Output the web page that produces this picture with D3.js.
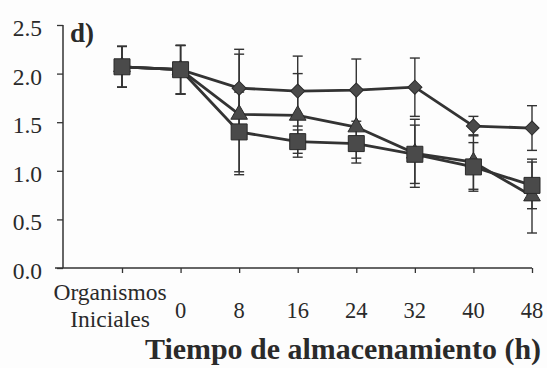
<!DOCTYPE html>
<html>
<head>
<meta charset="utf-8">
<script src="https://cdn.jsdelivr.net/npm/d3@7"></script>
<style>
  body { margin: 0; background: #fdfdfd; }
  svg { display: block; }
</style>
</head>
<body>
<svg id="chart"></svg>
<script>
const categories = ["Organismos Iniciales", "0", "8", "16", "24", "32", "40", "48"];
const yTicks = [0, 0.5, 1.0, 1.5, 2.0, 2.5];

const diamondVals = [2.07, 2.04, 1.85, 1.82, 1.83, 1.86, 1.46, 1.44];
const diamondErr = [0.21, 0.25, 0.40, 0.36, 0.32, 0.30, 0.10, 0.23];
const triangleVals = [2.07, 2.04, 1.58, 1.57, 1.45, 1.18, 1.09, 0.74];
const triangleErr = [0.21, 0.25, 0.62, 0.43, 0.37, 0.35, 0.28, 0.38];
const squareVals = [2.07, 2.04, 1.40, 1.30, 1.28, 1.17, 1.04, 0.85];
const squareErr = [0.21, 0.25, 0.41, 0.12, 0.15, 0.30, 0.25, 0.24];

const FONT = "'Liberation Serif', 'Times New Roman', Times, 'DejaVu Serif', serif";
const W = 547, H = 368;
const svg = d3.select("#chart").attr("width", W).attr("height", H);

const x = d3.scalePoint().domain(categories).range([122, 532]);
const y = d3.scaleLinear().domain([0, 2.5]).range([268, 25]);
const axisLeftX = 63;

// y axis
const yAxis = svg.append("g")
  .attr("transform", `translate(${axisLeftX},0)`)
  .attr("font-family", null)
  .call(d3.axisLeft(y).tickValues(yTicks).tickSize(6).tickFormat(d3.format(".1f")));
yAxis.attr("font-family", FONT);
yAxis.select(".domain").remove();
yAxis.selectAll("line").attr("stroke", "#333").attr("stroke-width", 1.3);
yAxis.selectAll("text")
  .attr("x", -21)
  .attr("dy", "0.45em")
  .style("font-family", FONT)
  .style("font-size", "23.5px")
  .attr("fill", "#2a2a2a");
svg.append("line")
  .attr("x1", axisLeftX).attr("x2", axisLeftX)
  .attr("y1", y(2.5)).attr("y2", y(0))
  .attr("stroke", "#333").attr("stroke-width", 1.5);

// x axis
const xAxis = svg.append("g")
  .attr("transform", `translate(0,${y(0)})`)
  .call(d3.axisBottom(x).tickSize(5).tickFormat(""));
xAxis.select(".domain").remove();
xAxis.selectAll("line").attr("stroke", "#333").attr("stroke-width", 1.3);
svg.append("line")
  .attr("x1", 55).attr("x2", x("48"))
  .attr("y1", y(0)).attr("y2", y(0))
  .attr("stroke", "#333").attr("stroke-width", 1.5);

// x labels
categories.forEach((c, i) => {
  if (i === 0) {
    const t = svg.append("text")
      .attr("text-anchor", "middle")
      .attr("fill", "#2a2a2a")
      .style("font-family", FONT)
      .style("font-size", "23.5px");
    t.append("tspan").attr("x", x(c) - 12).attr("y", 300).text("Organismos");
    t.append("tspan").attr("x", x(c) - 12).attr("y", 327).text("Iniciales");
  } else {
    svg.append("text")
      .attr("x", x(c))
      .attr("y", 318)
      .attr("text-anchor", "middle")
      .attr("fill", "#2a2a2a")
      .style("font-family", FONT)
      .style("font-size", "22.5px")
      .text(c);
  }
});

svg.append("text")
  .attr("x", 343)
  .attr("y", 359)
  .attr("text-anchor", "middle")
  .attr("textLength", 396)
  .attr("lengthAdjust", "spacingAndGlyphs")
  .attr("fill", "#2a2a2a")
  .style("font-family", FONT)
  .style("font-size", "30px")
  .style("font-weight", "bold")
  .text("Tiempo de almacenamiento (h)");

svg.append("text")
  .attr("x", 70)
  .attr("y", 42)
  .attr("fill", "#2a2a2a")
  .style("font-family", FONT)
  .style("font-size", "27px")
  .style("font-weight", "bold")
  .text("d)");

const series = [
  { vals: diamondVals, err: diamondErr, shape: "diamond" },
  { vals: triangleVals, err: triangleErr, shape: "triangle" },
  { vals: squareVals, err: squareErr, shape: "square" },
];

const lineGen = d3.line()
  .x((d, i) => x(categories[i]))
  .y((d) => y(d));

// error bars
series.forEach((s) => {
  const g = svg.append("g");
  s.vals.forEach((v, i) => {
    const cx = x(categories[i]);
    const top = y(v + s.err[i]), bot = y(v - s.err[i]);
    g.append("line").attr("x1", cx).attr("x2", cx).attr("y1", top).attr("y2", bot)
      .attr("stroke", "#333").attr("stroke-width", 1.4);
    [top, bot].forEach((yy) => {
      g.append("line").attr("x1", cx - 5).attr("x2", cx + 5).attr("y1", yy).attr("y2", yy)
        .attr("stroke", "#333").attr("stroke-width", 1.4);
    });
  });
});

// lines and markers
series.forEach((s) => {
  svg.append("path")
    .datum(s.vals)
    .attr("d", lineGen)
    .attr("fill", "none")
    .attr("stroke", "#333")
    .attr("stroke-width", 2.8);
});

series.forEach((s) => {
  const sym = s.shape === "triangle" ? d3.symbol(d3.symbolTriangle, 120)
    : d3.symbol(d3.symbolSquare, s.shape === "square" ? 256 : 100);
  svg.append("g").selectAll("path")
    .data(s.vals)
    .join("path")
    .attr("d", sym)
    .attr("transform", (d, i) => `translate(${x(categories[i])},${y(d)})` + (s.shape === "diamond" ? " rotate(45)" : ""))
    .attr("fill", "#4a4a4a")
    .attr("stroke", "#2a2a2a")
    .attr("stroke-width", 1);
});
</script>
</body>
</html>
